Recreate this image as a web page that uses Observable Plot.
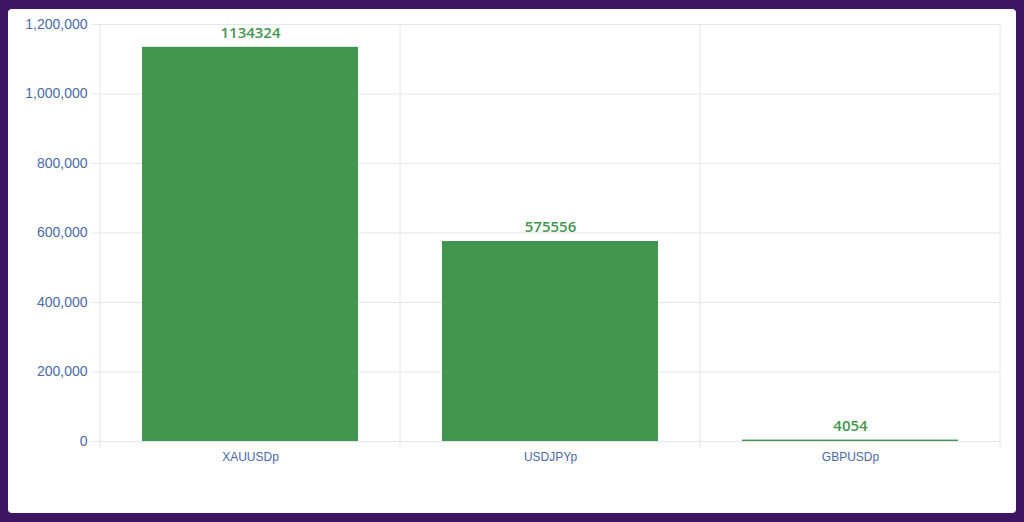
<!DOCTYPE html>
<html><head><meta charset="utf-8">
<script src="https://cdn.jsdelivr.net/npm/d3@7"></script>
<script src="https://cdn.jsdelivr.net/npm/@observablehq/plot@0.6"></script>
<style>
html,body{margin:0;padding:0;background:#3c1563;width:1024px;height:522px;overflow:hidden;}
#panel{position:absolute;left:8px;top:9px;width:1008px;height:504px;background:#fff;border-radius:4px;}
svg{font-family:"Helvetica Neue",Helvetica,Arial,"Liberation Sans",sans-serif;}
</style></head>
<body><div id="panel"></div>
<script>
const symbols = ["XAUUSDp", "USDJPYp", "GBPUSDp"];
const volumes = [1134324, 575556, 4054];
const yTicks = [0, 200000, 400000, 600000, 800000, 1000000, 1200000];

const data = symbols.map((s, i) => ({symbol: s, value: volumes[i]}));
const axisColor = "#4a6aa6";
const gridColor = "#e6e6e6";
const fmt = d3.format(",");

const chart = Plot.plot({
  width: 1008,
  height: 504,
  marginLeft: 91,
  marginRight: 15,
  marginTop: 15,
  marginBottom: 72,
  style: {background: "transparent", fontSize: "12px"},
  x: {domain: symbols, paddingInner: 0.28, paddingOuter: 0.14, label: null},
  y: {domain: [0, 1200000], label: null},
  marks: [
    Plot.gridY(yTicks, {stroke: gridColor, strokeOpacity: 1}),
    Plot.barY(data, {x: "symbol", y: "value", fill: "#43964f"}),
    Plot.text(data, {x: "symbol", y: "value", text: d => String(d.value), dy: -14, fill: "#43964f", fontSize: 15, fontWeight: 600, fontFamily: "'Open Sans', sans-serif"}),
    Plot.axisY(yTicks, {tickFormat: fmt, fill: axisColor, stroke: gridColor, tickSize: 7, tickPadding: 5, fontSize: 14}),
    Plot.axisX({tickSize: 0, tickPadding: 11, fill: axisColor, fontSize: 12}),
    Plot.ruleY([0], {stroke: gridColor})
  ]
});

// vertical category-boundary gridlines (from band scale)
const xs = chart.scale("x");
const ys = chart.scale("y");
const bounds = [];
const step = xs.step;
symbols.forEach((s) => { bounds.push(xs.apply(s) - step * 0.14); });
bounds.push(xs.apply(symbols[symbols.length - 1]) + xs.bandwidth + step * 0.14);
const svgNS = "http://www.w3.org/2000/svg";
const g = document.createElementNS(svgNS, "g");
bounds.forEach(b => {
  const l = document.createElementNS(svgNS, "line");
  l.setAttribute("x1", b); l.setAttribute("x2", b);
  l.setAttribute("y1", ys.apply(1200000)); l.setAttribute("y2", ys.apply(0) + 7);
  l.setAttribute("stroke", gridColor);
  g.appendChild(l);
});
chart.insertBefore(g, chart.children[1]);
document.getElementById("panel").appendChild(chart);
</script>
</body></html>
